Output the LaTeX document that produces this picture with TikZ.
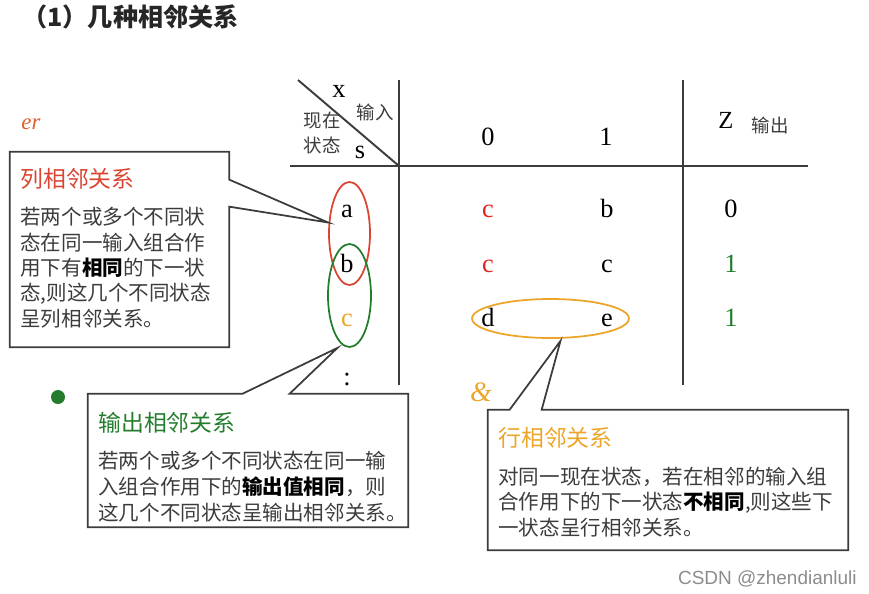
\documentclass[tikz,border=0pt]{standalone}
\usepackage{fontspec}
\setmainfont{Liberation Serif}
\newfontfamily\cjk{Noto Sans CJK SC}
\newfontfamily\wmsans{Liberation Sans}
\usepackage{tikz}
\usetikzlibrary{shapes.geometric,calc,positioning}
\usepackage{xcolor}
\definecolor{adjred}{RGB}{218,68,48}
\definecolor{cellred}{RGB}{226,38,30}
\definecolor{adjgreen}{RGB}{35,125,45}
\definecolor{adjorange}{RGB}{236,165,40}
\definecolor{adjvermilion}{RGB}{225,95,45}
\definecolor{adjtext}{RGB}{60,60,60}
\definecolor{adjline}{RGB}{60,60,60}

\tikzset{
  tabline/.style={draw=adjline, line width=1.1pt},
  ring/.style={ellipse, draw, line width=1pt, inner sep=0pt},
  calloutbox/.style={draw=adjline, line width=1pt, line join=miter},
  cell/.style={font=\fontsize{15}{18}\selectfont, anchor=base, inner sep=0pt},
  headcjk/.style={font=\cjk\fontsize{10.5}{12}\selectfont, color=adjtext, inner sep=0pt},
  boxtitle/.style={font=\cjk\fontsize{13}{16}\selectfont, anchor=base west, inner sep=0pt},
  boxbody/.style={font=\cjk\fontsize{11.7}{14.4}\selectfont, color=adjtext, anchor=base west, align=left, inner sep=0pt},
}
\newcommand{\hl}[1]{\textcolor{black}{\bfseries #1}}

\begin{document}
\begin{tikzpicture}[x=0.02cm, y=-0.02cm]
\useasboundingbox (0,0) rectangle (869,593);

% heading
\node[anchor=base west, inner sep=0pt, font=\cjk\bfseries\fontsize{14.3}{17}\selectfont, color=black!85] (heading) at (22,26) {（1）几种相邻关系};

% grid of the state table
\draw[tabline] (298,80) -- (399,166);
\draw[tabline] (399,80) -- (399,385);
\draw[tabline] (683,80) -- (683,385);
\draw[tabline] (290,166) -- (808,166);

% header
\node[cell] (hx) at (339,97) {x};
\node[cell] (hs) at (360,158) {s};
\node[headcjk] (hin) at (375,112) {输入};
\node[headcjk] (hnow) at (322,121) {现在};
\node[headcjk] (hstate) at (322,145) {状态};
\node[cell] (hzero) at (488,145) {0};
\node[cell] (hone) at (606,145) {1};
\node[cell, font=\fontsize{14}{16}\selectfont] (hz) at (726,128) {Z};
\node[headcjk] (hout) at (770,125) {输出};

% rows
\node[cell] (sa) at (347,217) {a};
\node[cell, color=cellred] (na0) at (488,217) {c};
\node[cell] (na1) at (607,217) {b};
\node[cell] (za) at (731,217) {0};
\node[cell] (sb) at (347,272) {b};
\node[cell, color=cellred] (nb0) at (488,272) {c};
\node[cell] (nb1) at (607,272) {c};
\node[cell, color=adjgreen] (zb) at (731,272) {1};
\node[cell, color=adjorange] (sc) at (347,326) {c};
\node[cell] (nc0) at (488,326) {d};
\node[cell] (nc1) at (607,326) {e};
\node[cell, color=adjgreen] (zc) at (731,326) {1};
\node[cell] (sdots) at (347,385) {:};

% rings
\node[ring, draw=adjred, minimum width=0.82cm, minimum height=2.06cm] (redring) at (349.5,233.5) {};
\node[ring, draw=adjgreen, minimum width=0.86cm, minimum height=2.06cm] (greenring) at (349.5,295.5) {};
\node[ring, draw=adjorange, minimum width=3.14cm, minimum height=0.78cm] (orangering) at (550.5,318.5) {};

% marks
\node[font=\itshape\fontsize{13}{15}\selectfont, color=adjvermilion, inner sep=0pt] (ermark) at (31,124) {er};
\fill[adjgreen] (58,397) circle (7) coordinate (gdot);
\node[font=\itshape\fontsize{16}{18}\selectfont, color=adjorange, inner sep=0pt] (ampmark) at (481,392) {\&};

% column callout
\node[minimum width=4.38cm, minimum height=3.9cm, inner sep=0pt] (colbox) at (119.5,249.5) {};
\draw[calloutbox] (colbox.north west) -- (colbox.north east) -- ($(colbox.north east)+(0,28)$)
  -- ($(redring.west)+(0,-11)$) -- ($(colbox.north east)+(0,55)$) -- (colbox.south east)
  -- (colbox.south west) -- cycle;
\node[boxtitle, color=adjred] (coltitle) at (20,187) {列相邻关系};
\node[boxbody] (coltext) at (20,326) {若两个或多个不同状\\态在同一输入组合作\\用下有\hl{相同}的下一状\\态,则这几个不同状态\\呈列相邻关系。};

% output callout
\node[minimum width=6.4cm, minimum height=2.66cm, inner sep=0pt] (outbox) at (248,460.5) {};
\draw[calloutbox] (outbox.north west) -- ($(outbox.north west)+(155,0)$)
  -- ($(greenring.south)+(-12,0)$) -- ($(outbox.north west)+(202,0)$) -- (outbox.north east)
  -- (outbox.south east) -- (outbox.south west) -- cycle;
\node[boxtitle, color=adjgreen] (outtitle) at (98,431) {输出相邻关系};
\node[boxbody, font=\cjk\fontsize{11.7}{14.8}\selectfont] (outtext) at (98,520) {若两个或多个不同状态在同一输\\入组合作用下的\hl{输出值相同}，则\\这几个不同状态呈输出相邻关系。};

% row callout
\node[minimum width=7.2cm, minimum height=2.8cm, inner sep=0pt] (rowbox) at (668,480) {};
\draw[calloutbox] (rowbox.north west) -- ($(rowbox.north west)+(22,0)$)
  -- ($(orangering.south)+(10,2)$) -- ($(rowbox.north west)+(54,0)$) -- (rowbox.north east)
  -- (rowbox.south east) -- (rowbox.south west) -- cycle;
\node[boxtitle, color=adjorange] (rowtitle) at (498,446) {行相邻关系};
\node[boxbody, font=\cjk\fontsize{11.7}{14.5}\selectfont] (rowtext) at (498,535) {对同一现在状态，若在相邻的输入组\\合作用下的下一状态\hl{不相同},则这些下\\一状态呈行相邻关系。};

% watermark
\node[anchor=base east, inner sep=0pt, font=\wmsans\fontsize{10.8}{12}\selectfont, color=black!45] (mark) at (857,584) {CSDN @zhendianluli};
\end{tikzpicture}
\end{document}
